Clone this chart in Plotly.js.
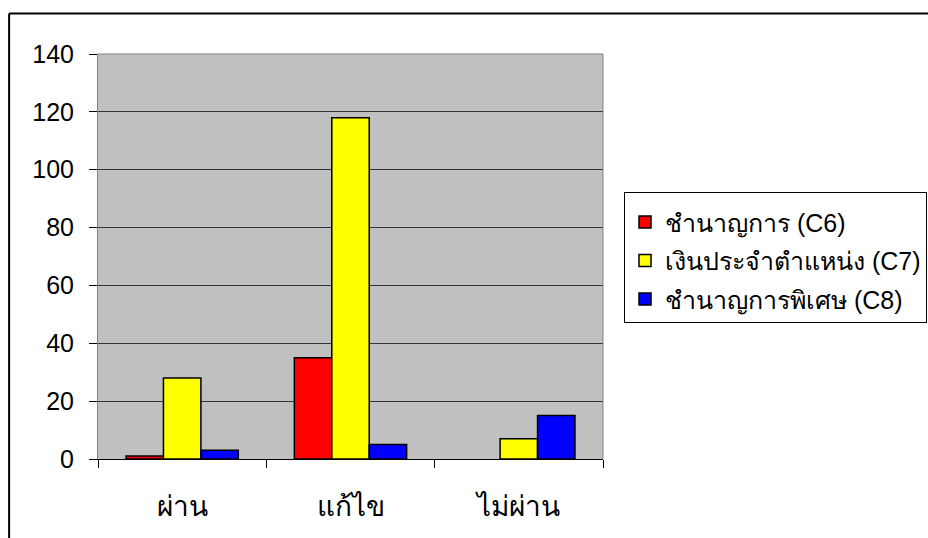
<!DOCTYPE html>
<html>
<head>
<meta charset="utf-8">
<script src="https://cdn.plot.ly/plotly-3.0.1.min.js"></script>
<style>
html,body{margin:0;padding:0;background:#fff;overflow:hidden;}
#wrap{width:928px;height:538px;overflow:hidden;position:relative;}
#chart{width:980px;height:538px;position:absolute;left:0;top:0;}
</style>
</head>
<body>
<div id="wrap">
<div id="chart"></div>
</div>
<script>
const categories = ['ผ่าน', 'แก้ไข', 'ไม่ผ่าน'];
const seriesNames = ['ชำนาญการ (C6)', 'เงินประจำตำแหน่ง (C7)', 'ชำนาญการพิเศษ (C8)'];
const c6 = [1, 35, 0];
const c7 = [28, 118, 7];
const c8 = [3, 5, 15];
const yTicks = [0, 20, 40, 60, 80, 100, 120, 140];

const colors = ['#ff0000', '#ffff00', '#0000ff'];
const font = 'Liberation Sans, Arial, Noto Sans, sans-serif';
const values = [c6, c7, c8];

const traces = values.map((v, i) => ({
  type: 'bar',
  x: categories,
  y: v,
  name: seriesNames[i],
  legendgroup: 'g' + i,
  marker: {color: colors[i], line: {color: '#000', width: v.map(val => val === 0 ? 0 : 1.5)}},
  hoverinfo: 'none'
}));

const layout = {
  width: 980, height: 538,
  margin: {l: 98, r: 377, t: 54, b: 79},
  paper_bgcolor: '#fff',
  plot_bgcolor: '#c0c0c0',
  barmode: 'group',
  bargap: 0.333,
  bargroupgap: 0,
  font: {family: font, color: '#000'},
  showlegend: true,
  legend: {
    x: 1.0416, xanchor: 'left', y: 0.66, yanchor: 'top',
    bgcolor: '#fff', bordercolor: '#000', borderwidth: 1,
    font: {size: 25, family: font, color: '#000'},
    title: {text: ' ', font: {size: 5}},
    tracegroupgap: 3,
    itemclick: false
  },
  xaxis: {
    type: 'category',
    tickson: 'boundaries',
    ticks: 'outside', ticklen: 8, tickcolor: '#000', tickwidth: 1,
    showline: true, linecolor: '#000', linewidth: 1,
    showgrid: false,
    tickfont: {size: 28, family: font},
    ticklabelstandoff: 22,
    fixedrange: true
  },
  yaxis: {
    range: [0, 140],
    tickvals: yTicks,
    ticktext: yTicks.map(String),
    ticks: 'outside', ticklen: 8, tickcolor: '#000', tickwidth: 1,
    showline: true, linecolor: '#808080', linewidth: 1,
    showgrid: true, gridcolor: '#333', gridwidth: 1,
    zeroline: false,
    tickfont: {size: 25, family: font},
    ticklabelstandoff: 10,
    fixedrange: true
  },
  shapes: [
    {type: 'line', xref: 'paper', yref: 'paper', x0: 0, x1: 1, y0: 1, y1: 1, line: {color: '#808080', width: 1}},
    {type: 'line', xref: 'paper', yref: 'paper', x0: 1, x1: 1, y0: 0, y1: 1, line: {color: '#808080', width: 1}},
    {type: 'line', xref: 'paper', yref: 'paper', x0: -0.176, x1: 1.75, y0: 1.1, y1: 1.1, line: {color: '#000', width: 2}},
    {type: 'line', xref: 'paper', yref: 'paper', x0: -0.176, x1: -0.176, y0: 1.1, y1: -0.2, line: {color: '#000', width: 2}}
  ]
};

Plotly.newPlot('chart', traces, layout, {displayModeBar: false, staticPlot: true});
</script>
</body>
</html>
